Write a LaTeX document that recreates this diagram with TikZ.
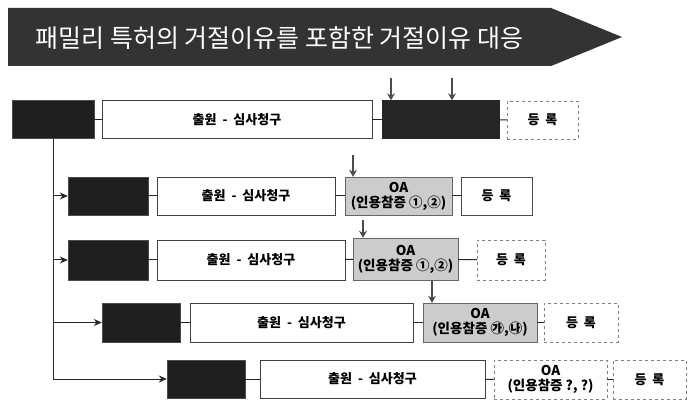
\documentclass[tikz,border=0pt]{standalone}
\usepackage{fontspec}
\newfontfamily\kr{Noto Sans CJK KR}
\usetikzlibrary{arrows.meta}

\tikzset{
  box/.style={inner sep=0pt, align=center, font=\kr\bfseries\fontsize{13}{15}\selectfont},
  blkbox/.style={box, fill=black!88, draw=black!70, minimum width=80pt, minimum height=38pt},
  mainbox/.style={box, draw=black!75, fill=white, minimum height=38pt},
  oabox/.style={box, draw=black!60, fill=black!20, minimum height=38pt,
    font=\kr\bfseries\fontsize{13.5}{15}\selectfont},
  regbox/.style={box, draw=black!70, fill=white, minimum height=38pt},
  regdash/.style={regbox, dashed, draw=black!50},
  link/.style={draw=black!85, line width=1pt},
  downarr/.style={draw=black!70, line width=2.6pt, -{Stealth[length=7pt,width=8pt]}},
}

\begin{document}
\begin{tikzpicture}[x=1pt, y=-1pt]
    \useasboundingbox (0,0) rectangle (689,401);

    % title banner
    \fill[black!80] (8,8) -- (551,8) -- (622,37) -- (551,66) -- (8,66) -- cycle;
    \node[text=white, font=\kr\fontsize{25}{28}\selectfont, anchor=west] (title) at (32,38)
      {패밀리 특허의 거절이유를 포함한 거절이유 대응};

    % row 0
    \node[blkbox, minimum width=82pt] (blk0) at (53,119.5) {};
    \node[mainbox, minimum width=270pt] (main0) at (237,119.5) {출원 \ - \ 심사청구};
    \node[oabox, fill=black!85, draw=black!85, minimum width=117pt] (oa0) at (440.5,119.5) {};
    \node[regdash, minimum width=71pt] (reg0) at (542.5,120) {등 \ 록};

    % row 1
    \node[blkbox] (blk1) at (108,196) {};
    \node[mainbox, minimum width=178pt] (main1) at (246,196) {출원 \ - \ 심사청구};
    \node[oabox, minimum width=107pt] (oa1) at (398.5,196) {OA\\(인용참증 ①,②)};
    \node[regbox, minimum width=71pt] (reg1) at (496.5,196) {등 \ 록};

    % row 2
    \node[blkbox, minimum height=40pt] (blk2) at (108,260) {};
    \node[mainbox, minimum width=188pt, minimum height=40pt] (main2) at (251,260) {출원 \ - \ 심사청구};
    \node[oabox, minimum width=105pt, minimum height=42pt] (oa2) at (405.5,259) {OA\\(인용참증 ①,②)};
    \node[regdash, minimum width=68pt, minimum height=40pt] (reg2) at (511,260) {등 \ 록};

    % row 3
    \node[blkbox, minimum width=78pt, minimum height=39pt] (blk3) at (141,322.5) {};
    \node[mainbox, minimum width=223pt, minimum height=39pt] (main3) at (301.5,322.5) {출원 \ - \ 심사청구};
    \node[oabox, minimum width=114pt, minimum height=39pt] (oa3) at (480,322.5) {OA\\(인용참증 ㉮,㉯)};
    \node[regdash, minimum width=74pt, minimum height=39pt] (reg3) at (581,322.5) {등 \ 록};

    % row 4
    \node[regdash, fill=none, minimum width=113pt, minimum height=39pt,
      font=\kr\bfseries\fontsize{13.5}{15}\selectfont] (oa4) at (550.5,379.5) {OA\\(인용참증 ?, ?)};
    \node[blkbox, minimum width=78pt] (blk4) at (206,379) {};
    \node[mainbox, minimum width=225pt] (main4) at (372.5,379) {출원 \ - \ 심사청구};
    \node[regdash, minimum width=73pt, minimum height=39pt] (reg4) at (649.5,379.5) {등 \ 록};

    % links inside rows
    \draw[link] (blk0) -- (main0);  \draw[link] (main0) -- (oa0);  \draw[link] (oa0) -- (reg0);
    \draw[link] (blk1) -- (main1);  \draw[link] (main1) -- (oa1);  \draw[link] (oa1) -- (reg1);
    \draw[link] (blk2) -- (main2);  \draw[link] (main2) -- (oa2);  \draw[link] (oa2) -- (reg2);
    \draw[link] (blk3) -- (main3);  \draw[link] (main3) -- (oa3);  \draw[link] (oa3) -- (reg3);
    \draw[link] (blk4) -- (main4);  \draw[link] (main4) -- (oa4);  \draw[link] (oa4) -- (reg4);

    % family branches
    \draw[link, -{Stealth[length=8pt,width=7pt]}] (blk0.south) |- (blk4.west);
    \draw[link, -{Stealth[length=8pt,width=7pt]}] (blk0.south |- blk1.west) -- (blk1.west);
    \draw[link, -{Stealth[length=8pt,width=7pt]}] (blk0.south |- blk2.west) -- (blk2.west);
    \draw[link, -{Stealth[length=8pt,width=7pt]}] (blk0.south |- blk3.west) -- (blk3.west);

    % rejections coming in
    \coordinate (in0a) at (391,78);
    \coordinate (in0b) at (452,78);
    \coordinate (in1) at (353,155);
    \coordinate (in2) at (363,220);
    \coordinate (in3) at (432,281);
    \draw[downarr] (in0a) -- (in0a |- oa0.north);
    \draw[downarr] (in0b) -- (in0b |- oa0.north);
    \draw[downarr] (in1) -- (in1 |- oa1.north);
    \draw[downarr] (in2) -- (in2 |- oa2.north);
    \draw[downarr] (in3) -- (in3 |- oa3.north);
\end{tikzpicture}
\end{document}
